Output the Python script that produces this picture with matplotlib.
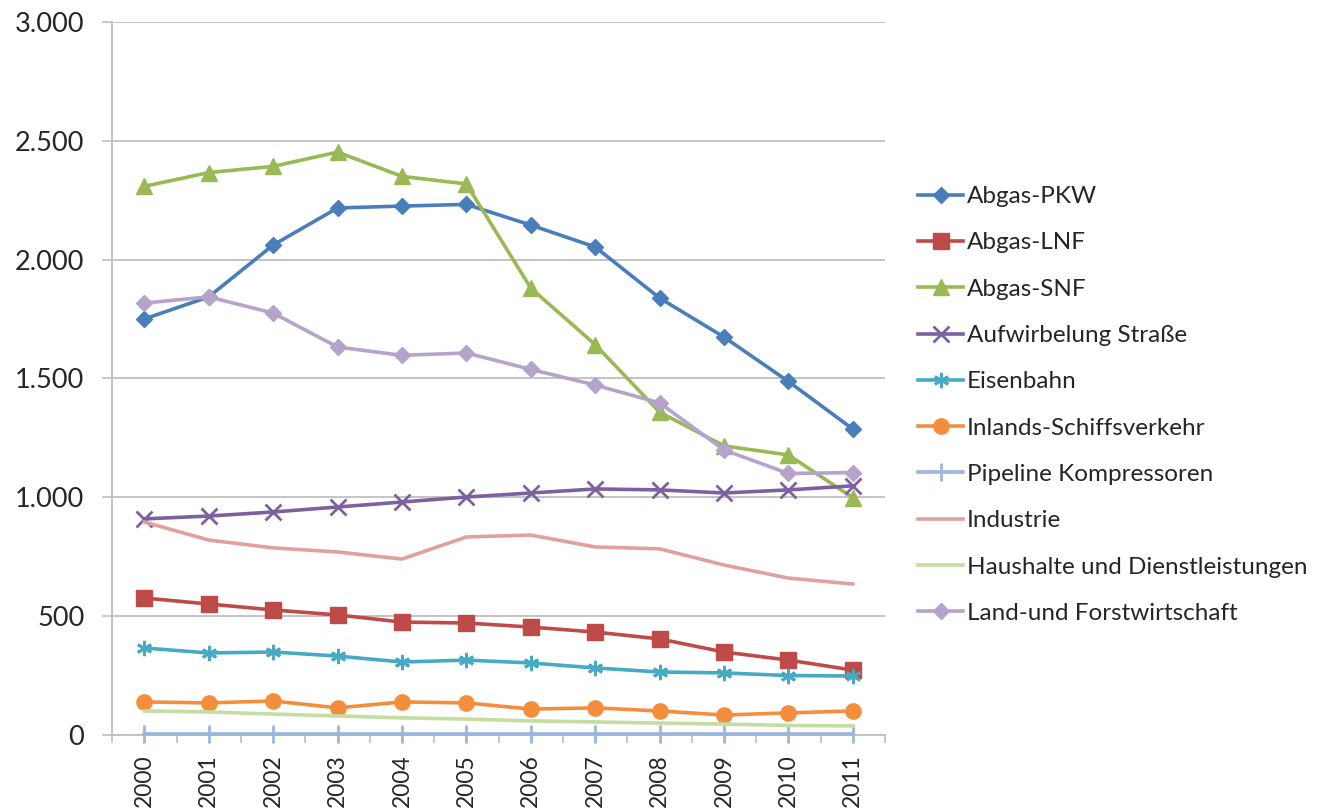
import matplotlib
matplotlib.use("Agg")
import matplotlib.pyplot as plt
from matplotlib.ticker import FuncFormatter, FixedLocator
import numpy as np

plt.rcParams['font.family'] = ['Lato', 'DejaVu Sans']

years = ['2000', '2001', '2002', '2003', '2004', '2005',
         '2006', '2007', '2008', '2009', '2010', '2011']

abgas_pkw = [1750, 1843, 2061, 2217, 2225, 2232, 2145, 2053, 1838, 1674, 1487, 1287]
abgas_lnf = [576, 551, 526, 505, 475, 471, 454, 433, 404, 349, 315, 273]
abgas_snf = [2308, 2366, 2392, 2452, 2350, 2318, 1880, 1642, 1358, 1216, 1178, 998]
aufwirbelung = [909, 921, 938, 959, 980, 1001, 1018, 1035, 1031, 1018, 1031, 1048]
eisenbahn = [366, 345, 349, 332, 307, 315, 303, 282, 265, 261, 250, 248]
schiff = [139, 135, 143, 114, 139, 135, 109, 114, 101, 84, 93, 101]
pipeline = [3, 3, 3, 3, 3, 3, 3, 3, 3, 3, 3, 3]
industrie = [896, 820, 787, 770, 740, 833, 841, 791, 783, 715, 660, 635]
haushalte = [101, 97, 88, 80, 72, 67, 59, 55, 50, 46, 40, 38]
land_forst = [1817, 1843, 1775, 1632, 1597, 1607, 1538, 1472, 1397, 1199, 1100, 1104]

labels = ['Abgas-PKW', 'Abgas-LNF', 'Abgas-SNF', 'Aufwirbelung Straße', 'Eisenbahn',
          'Inlands-Schiffsverkehr', 'Pipeline Kompressoren', 'Industrie',
          'Haushalte und Dienstleistungen', 'Land-und Forstwirtschaft']
series = [abgas_pkw, abgas_lnf, abgas_snf, aufwirbelung, eisenbahn,
          schiff, pipeline, industrie, haushalte, land_forst]
colors = ['#4A7EBB', '#BE4B48', '#98B954', '#7D60A0', '#46AAC5',
          '#F58E3C', '#9BB5DE', '#E0A0A0', '#C4DDA0', '#B5A3CB']
markers = ['D', 's', '^', 'x', (6, 2, 0), 'o', '|', None, None, 'D']
msizes = [8, 12, 12, 12, 11, 11, 13, 0, 0, 8]

fig = plt.figure(figsize=(13.19, 8.09), dpi=100)
ax = fig.add_axes([0.085, 0.0915, 0.586, 0.8815])

x = np.arange(len(years))
for vals, lab, col, mk, ms in zip(series, labels, colors, markers, msizes):
    thin = mk in ('x', '|') or isinstance(mk, tuple)
    ax.plot(x, vals, color=col, linewidth=2.6, marker=mk, markersize=ms,
            markeredgewidth=2 if thin else 1, label=lab,
            zorder=3, clip_on=False)

ax.set_xlim(-0.5, len(years) - 0.5)
ax.set_ylim(0, 3000)
ax.set_yticks(np.arange(0, 3001, 500))
ax.yaxis.set_major_formatter(FuncFormatter(lambda v, p: f'{int(v):,}'.replace(',', '.')))
ax.set_xticks(x)
ax.set_xticklabels(years, rotation=90, fontsize=16.5)
ax.xaxis.set_minor_locator(FixedLocator(np.arange(-0.5, len(years), 1)))
ax.tick_params(axis='x', which='major', length=0, pad=14, labelcolor='#262626')
ax.tick_params(axis='x', which='minor', length=6, color='#BFBFBF', width=1.2)
ax.tick_params(axis='y', length=7, color='#BFBFBF', width=1.2, labelsize=19.5, pad=13,
               labelcolor='#262626')

ax.grid(axis='y', color='#BFBFBF', linewidth=1.3)
ax.set_axisbelow(True)
for side in ['top', 'right']:
    ax.spines[side].set_visible(False)
ax.spines['left'].set_color('#BFBFBF')
ax.spines['bottom'].set_color('#BFBFBF')
ax.spines['left'].set_linewidth(1.3)
ax.spines['bottom'].set_linewidth(1.3)

leg = fig.legend(loc='center left', bbox_to_anchor=(0.696, 0.4994), frameon=False,
                 fontsize=17.5, handlelength=1.85, handletextpad=0.17, labelspacing=1.04,
                 borderpad=0, borderaxespad=0)
for t in leg.get_texts():
    t.set_color('#262626')

fig.savefig('out.png', dpi=100)
